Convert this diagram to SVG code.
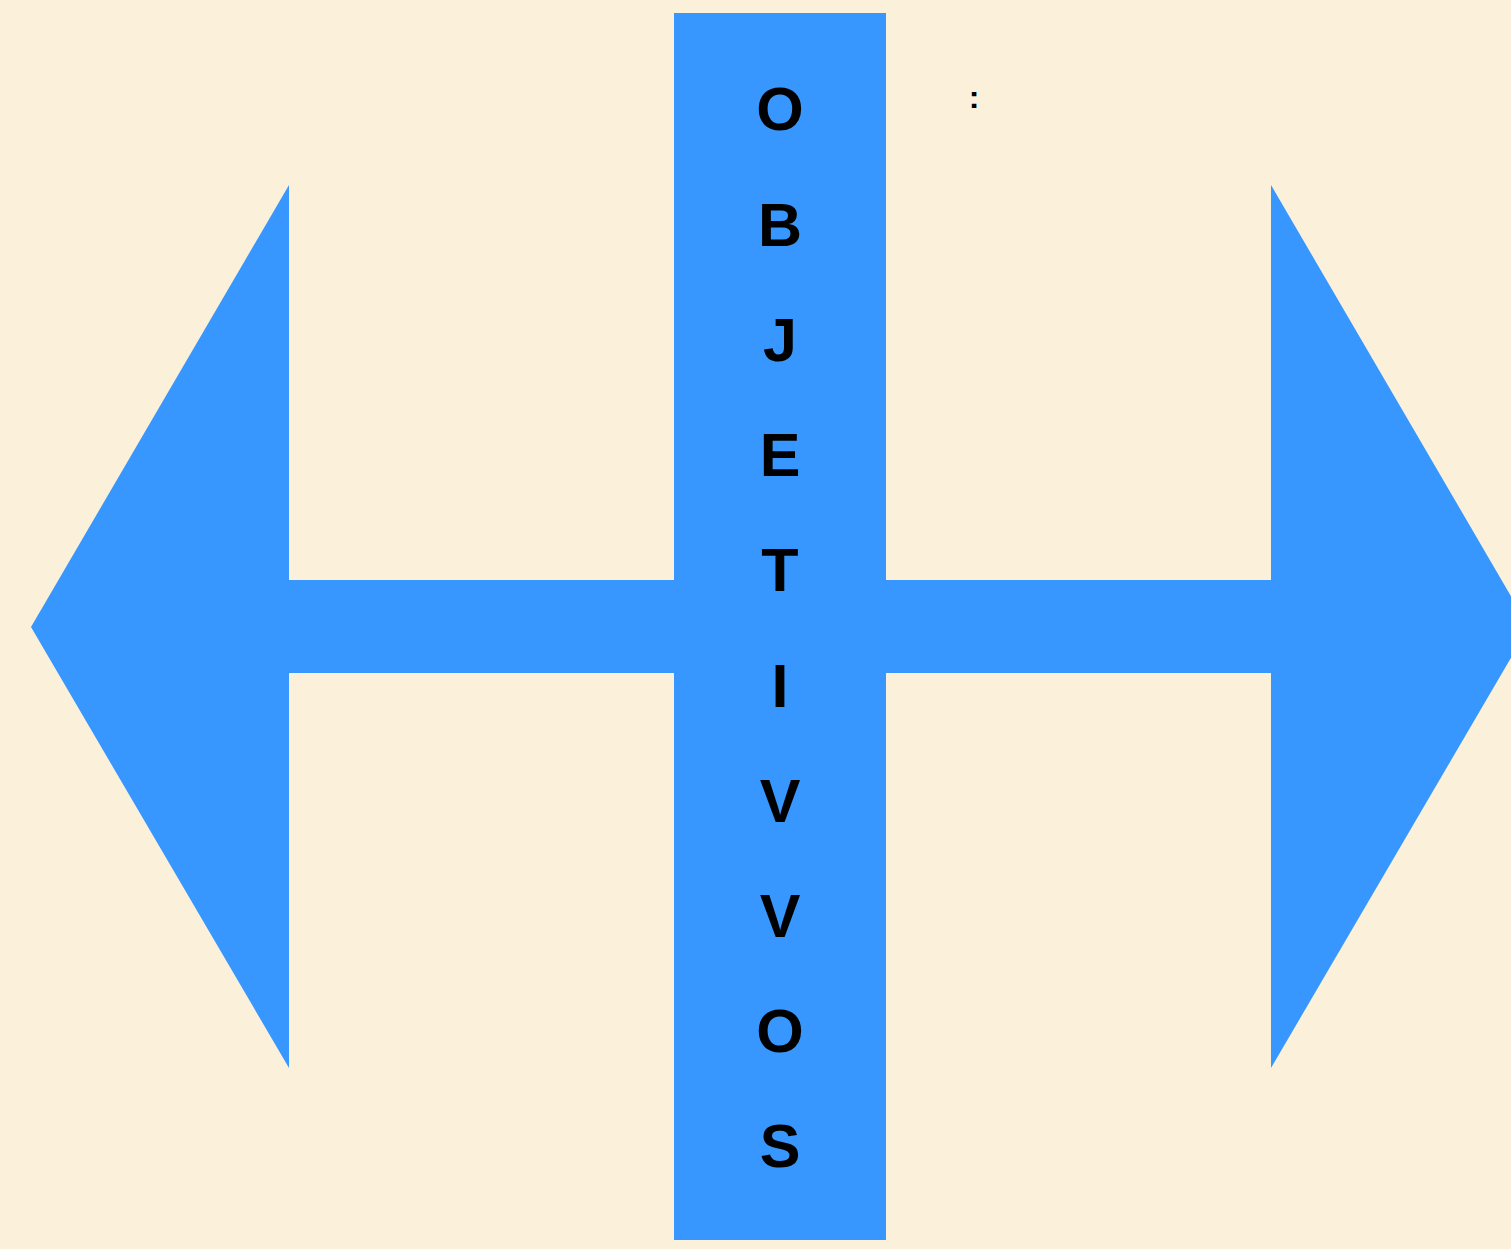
<svg xmlns="http://www.w3.org/2000/svg" width="1511" height="1249" viewBox="0 0 1511 1249">
<style>
.shape{fill:#3797FF}
.letter{font-family:"Liberation Sans",Arial,sans-serif;font-weight:bold;font-size:61px;fill:#000;text-anchor:middle}
.note{font-family:"Liberation Sans",Arial,sans-serif;font-weight:bold;font-size:32px;fill:#000;text-anchor:middle}
</style>
<rect x="0" y="0" width="1511" height="1249" fill="#FBF0DA"/>
<g id="arrow">
<polygon class="shape" points="31,627 289,185 289,580 1271,580 1271,185 1529,627 1271,1068 1271,673 289,673 289,1068"/>
</g>
<g id="bar">
<rect class="shape" x="674" y="13" width="212" height="1227"/>
<text class="letter" x="780" y="130">O</text>
<text class="letter" x="780" y="246">B</text>
<text class="letter" x="780" y="361">J</text>
<text class="letter" x="780" y="476">E</text>
<text class="letter" x="780" y="591">T</text>
<text class="letter" x="780" y="707">I</text>
<text class="letter" x="780" y="822">V</text>
<text class="letter" x="780" y="937">V</text>
<text class="letter" x="780" y="1052">O</text>
<text class="letter" x="780" y="1167">S</text>
</g>
<g id="note">
<text class="note" x="974" y="108">:</text>
</g>
</svg>
